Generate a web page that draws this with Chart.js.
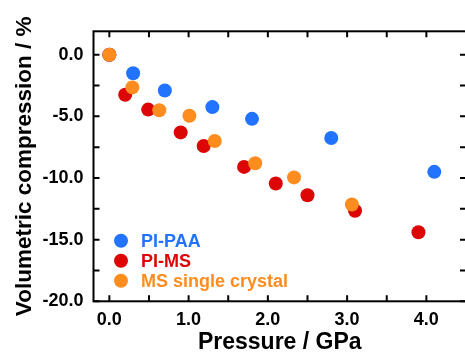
<!DOCTYPE html>
<html>

<head>
    <meta charset="utf-8">
    <title>Volumetric compression</title>
    <script src="https://cdn.jsdelivr.net/npm/chart.js"></script>

    <style>
        html, body {
            margin: 0;
            padding: 0;
            background: #fff;
            overflow: hidden;
        }

        .graph-wrapper {
            width: 465px;
            height: 354px;
            overflow: hidden;
        }
    </style>
</head>

<body>
    <div class="graph-wrapper">
        <canvas id="graph" width="474" height="354"></canvas>
    </div>
    <script>
        // pressure (GPa) / volumetric compression (%)
        const paaPressure = [0, 0.30, 0.70, 1.30, 1.80, 2.80, 4.10];
        const paaCompression = [0, -1.5, -2.9, -4.25, -5.2, -6.75, -9.5];

        const msPressure = [0, 0.20, 0.49, 0.90, 1.19, 1.70, 2.10, 2.50, 3.10, 3.90];
        const msCompression = [0, -3.25, -4.45, -6.3, -7.4, -9.1, -10.45, -11.4, -12.65, -14.4];

        const crystalPressure = [0, 0.29, 0.63, 1.01, 1.33, 1.84, 2.33, 3.06];
        const crystalCompression = [0, -2.65, -4.5, -4.95, -7.0, -8.8, -9.95, -12.15];

        const labels = ['PI-PAA', 'PI-MS', 'MS single crystal'];
        const colors = ['#2273ff', '#dc0606', '#ff8c1f'];

        const xTicks = [0, 0.5, 1, 1.5, 2, 2.5, 3, 3.5, 4, 4.5];
        const yTicks = [0, -2.5, -5, -7.5, -10, -12.5, -15, -17.5, -20];
        const xLabeled = [0, 1, 2, 3, 4];
        const yLabeled = [0, -5, -10, -15, -20];

        const font = 'Liberation Sans, Arial, Helvetica, sans-serif';
        const toPoints = (xs, ys) => xs.map((x, i) => ({ x: x, y: ys[i] }));

        // frame + inward ticks on all four sides
        const framePlugin = {
            id: 'frame',
            beforeDatasetsDraw(chart) {
                const { ctx, chartArea: a, scales } = chart;
                ctx.save();
                ctx.strokeStyle = '#000';
                ctx.lineWidth = 2;
                ctx.strokeRect(a.left, a.top, a.right - a.left, a.bottom - a.top);
                ctx.beginPath();
                xTicks.forEach(v => {
                    const px = scales.x.getPixelForValue(v);
                    ctx.moveTo(px, a.bottom); ctx.lineTo(px, a.bottom - 6);
                    ctx.moveTo(px, a.top); ctx.lineTo(px, a.top + 6);
                });
                yTicks.forEach(v => {
                    const py = scales.y.getPixelForValue(v);
                    ctx.moveTo(a.left, py); ctx.lineTo(a.left + 6, py);
                    ctx.moveTo(a.right, py); ctx.lineTo(a.right - 6, py);
                });
                ctx.stroke();
                ctx.restore();
            }
        };

        // legend inside the plot, bottom-left, text in series colour
        const legendPlugin = {
            id: 'innerLegend',
            afterDatasetsDraw(chart) {
                const { ctx, chartArea: a } = chart;
                ctx.save();
                ctx.font = 'bold 18px ' + font;
                ctx.textBaseline = 'middle';
                labels.forEach((lab, i) => {
                    const y = a.bottom - 60.6 + i * 20;
                    ctx.fillStyle = colors[i];
                    ctx.beginPath();
                    ctx.arc(a.left + 27.5, y, 7, 0, Math.PI * 2);
                    ctx.fill();
                    ctx.fillText(lab, a.left + 47.5, y + 1);
                });
                ctx.restore();
            }
        };

        const canvas = document.getElementById('graph');
        const chart = new Chart(canvas.getContext('2d'), {
            type: 'scatter',
            data: {
                datasets: [
                    { label: labels[0], data: toPoints(paaPressure, paaCompression), backgroundColor: colors[0], order: 3 },
                    { label: labels[1], data: toPoints(msPressure, msCompression), backgroundColor: colors[1], order: 2 },
                    { label: labels[2], data: toPoints(crystalPressure, crystalCompression), backgroundColor: colors[2], order: 1 }
                ]
            },
            options: {
                responsive: false,
                animation: false,
                layout: { padding: { top: 31.3, right: 2.6, left: 0, bottom: 0 } },
                elements: { point: { radius: 7, borderWidth: 0, hoverRadius: 7 } },
                plugins: { legend: { display: false }, tooltip: { enabled: false } },
                scales: {
                    x: {
                        type: 'linear',
                        min: -0.2,
                        max: 4.5,
                        afterBuildTicks: s => { s.ticks = xTicks.map(v => ({ value: v })); },
                        afterFit: s => { s.height = 52.7; },
                        grid: { display: false, drawTicks: false },
                        border: { display: false },
                        ticks: {
                            autoSkip: false,
                            maxRotation: 0,
                            padding: 8,
                            color: '#000',
                            font: { family: font, size: 18, weight: 'bold' },
                            callback: v => xLabeled.includes(v) ? v.toFixed(1) : ''
                        },
                        title: {
                            display: true,
                            text: 'Pressure / GPa',
                            color: '#000',
                            font: { family: font, size: 23, weight: 'bold', lineHeight: 1 },
                            padding: { top: 0, bottom: 0 }
                        }
                    },
                    y: {
                        type: 'linear',
                        min: -20,
                        max: 1.9,
                        afterBuildTicks: s => { s.ticks = yTicks.map(v => ({ value: v })); },
                        afterFit: s => { s.width = 93.5; },
                        grid: { display: false, drawTicks: false },
                        border: { display: false },
                        ticks: {
                            autoSkip: false,
                            padding: 10,
                            color: '#000',
                            font: { family: font, size: 18, weight: 'bold' },
                            callback: v => yLabeled.includes(v) ? v.toFixed(1) : ''
                        },
                        title: {
                            display: true,
                            text: 'Volumetric compression / %',
                            color: '#000',
                            font: { family: font, size: 22.5, weight: 'bold', lineHeight: 1 },
                            padding: { top: 13.5, bottom: 0 }
                        }
                    }
                }
            },
            plugins: [framePlugin, legendPlugin]
        });
    </script>
</body>

</html>
